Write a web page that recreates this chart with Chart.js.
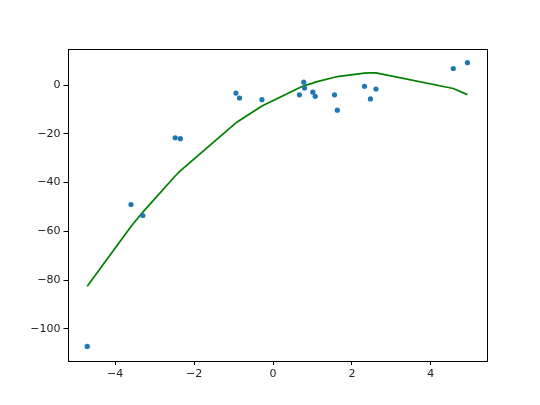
<!DOCTYPE html>
<html>
<head>
<meta charset="utf-8">
<script src="https://cdn.jsdelivr.net/npm/chart.js@4"></script>
<style>
  html, body { margin: 0; padding: 0; background: #fff; }
  #wrap { width: 540px; height: 405px; }
</style>
</head>
<body>
<div id="wrap"><canvas id="myChart" width="540" height="405"></canvas></div>
<script>
// scatter samples
const sampleX = [-4.71, -3.60, -3.30, -2.48, -2.35, -0.94, -0.85, -0.28, 0.67, 0.78,
                 0.80, 1.01, 1.07, 1.56, 1.63, 2.32, 2.47, 2.61, 4.57, 4.93];
const sampleY = [-107.2, -49.0, -53.5, -21.6, -22.0, -3.3, -5.3, -6.0, -4.0, 1.2,
                 -1.2, -2.9, -4.6, -4.0, -10.3, -0.5, -5.7, -1.6, 6.8, 9.2];
// fitted curve value at each sample x
const fitY = [-82.5, -58.0, -52.1, -37.3, -35.2, -15.5, -14.5, -8.6, -1.1, -0.3,
              -0.2, 0.8, 1.2, 3.2, 3.5, 4.9, 5.0, 5.0, -1.4, -3.9];
const xTicks = [-4, -2, 0, 2, 4];
const yTicks = [-100, -80, -60, -40, -20, 0];

const ctx = document.getElementById('myChart');
const font = { family: "'DejaVu Sans'", size: 11 };

const frame = {
  id: 'frame',
  afterDatasetsDraw(chart) {
    const a = chart.chartArea;
    const c = chart.ctx;
    c.save();
    c.strokeStyle = '#000';
    c.lineWidth = 1;
    c.strokeRect(Math.round(a.left) + 0.5, Math.round(a.top) + 0.5,
                 Math.round(a.right - a.left), Math.round(a.bottom - a.top));
    c.restore();
  }
};

const minus = (v) => String(v).replace('-', '\u2212');

let dataChart = new Chart(ctx, {
  type: 'scatter',
  data: {
    datasets: [{
      label: 'data',
      data: sampleX.map((x, i) => ({ x: x, y: sampleY[i] })),
      backgroundColor: '#1f77b4',
      borderColor: '#1f77b4',
      pointRadius: 2.6,
      borderWidth: 0,
      order: 0
    }, {
      label: 'fit',
      type: 'line',
      data: sampleX.map((x, i) => ({ x: x, y: fitY[i] })),
      borderColor: '#008000',
      borderWidth: 1.75,
      pointRadius: 0,
      fill: false,
      tension: 0,
      order: 1
    }]
  },
  options: {
    responsive: false,
    animation: false,
    events: [],
    layout: { padding: { left: 0, top: 49, right: 54, bottom: 0 } },
    scales: {
      x: {
        type: 'linear',
        min: -5.21,
        max: 5.40,
        afterBuildTicks: (s) => { s.ticks = xTicks.map(v => ({ value: v })); },
        afterFit: (s) => { s.height = 44; },
        grid: { drawOnChartArea: false, drawTicks: true, tickLength: 4, tickColor: '#000' },
        border: { display: false },
        ticks: { color: '#222', font: font, padding: 3, maxRotation: 0, callback: minus }
      },
      y: {
        type: 'linear',
        min: -113.2,
        max: 14.8,
        afterBuildTicks: (s) => { s.ticks = yTicks.map(v => ({ value: v })); },
        afterFit: (s) => { s.width = 67.5; },
        grid: { drawOnChartArea: false, drawTicks: true, tickLength: 4, tickColor: '#000' },
        border: { display: false },
        ticks: { color: '#222', font: font, padding: 3, callback: minus }
      }
    },
    plugins: {
      legend: { display: false },
      tooltip: { enabled: false }
    }
  },
  plugins: [frame]
});
</script>
</body>
</html>
